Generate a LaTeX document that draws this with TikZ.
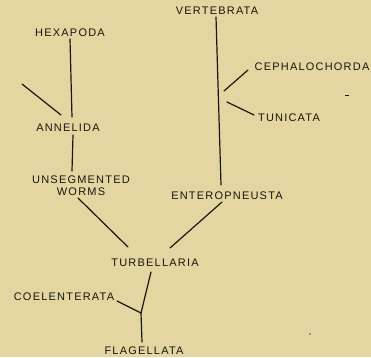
\documentclass[tikz,border=0pt]{standalone}
\usepackage{fontspec}
\setmainfont{Liberation Sans}[LetterSpace=11]
\definecolor{paper}{RGB}{228,214,160}
\definecolor{ink}{RGB}{24,22,18}
\begin{document}
\begin{tikzpicture}[x=1pt,y=-1pt,
  lbl/.style={inner sep=0pt,text=ink,font=\fontsize{11}{12}\selectfont,align=center},
  branch/.style={draw=ink,line width=1.2pt,line cap=round}]
\fill[paper] (0,0) rectangle (371,357);
\useasboundingbox (0,0) rectangle (371,357);
% labels
\node[lbl] (vert) at (217,11) {VERTEBRATA};
\node[lbl] (hexa) at (70,33) {HEXAPODA};
\node[lbl] (anne) at (68,128) {ANNELIDA};
\node[lbl] (unseg) at (81,186) {UNSEGMENTED\\WORMS};
\node[lbl] (ceph) at (312,67) {CEPHALOCHORDA};
\node[lbl] (tuni) at (289,118) {TUNICATA};
\node[lbl] (ente) at (227,196) {ENTEROPNEUSTA};
\node[lbl] (turb) at (155,263) {TURBELLARIA};
\node[lbl] (coel) at (64,297) {COELENTERATA};
\node[lbl] (flag) at (144,351) {FLAGELLATA};
% connector end points
\coordinate (hexaB) at (70,39);
\coordinate (anneT) at (72,117);
\coordinate (stubA) at (22,84);
\coordinate (stubB) at (61,115);
\coordinate (anneB) at (73,135);
\coordinate (unsegT) at (72,171);
\coordinate (wormsB) at (78,198);
\coordinate (turbL) at (128,247);
\coordinate (vertB) at (216,17);
\coordinate (enteT) at (221,185);
\coordinate (cephL) at (248,70);
\coordinate (cephJ) at (224,91);
\coordinate (tuniJ) at (227,102);
\coordinate (tuniL) at (254,115);
\coordinate (enteB) at (222,202);
\coordinate (turbR) at (170,248);
\coordinate (turbB) at (151,272);
\coordinate (fork) at (141,313);
\coordinate (coelR) at (117,301);
\coordinate (flagT) at (142,342);
% connectors
\draw[branch] (hexaB) -- (anneT);
\draw[branch] (stubA) -- (stubB);
\draw[branch] (anneB) -- (unsegT);
\draw[branch] (wormsB) -- (turbL);
\draw[branch] (vertB) -- (enteT);
\draw[branch] (cephL) -- (cephJ);
\draw[branch] (tuniJ) -- (tuniL);
\draw[branch] (enteB) -- (turbR);
\draw[branch] (turbB) -- (fork);
\draw[branch] (coelR) -- (fork);
\draw[branch] (fork) -- (flagT);
% scan specks
\fill[ink] (345,94.5) rectangle (349,96);
\fill[ink!70] (310,334) circle (0.8);
\end{tikzpicture}
\end{document}
